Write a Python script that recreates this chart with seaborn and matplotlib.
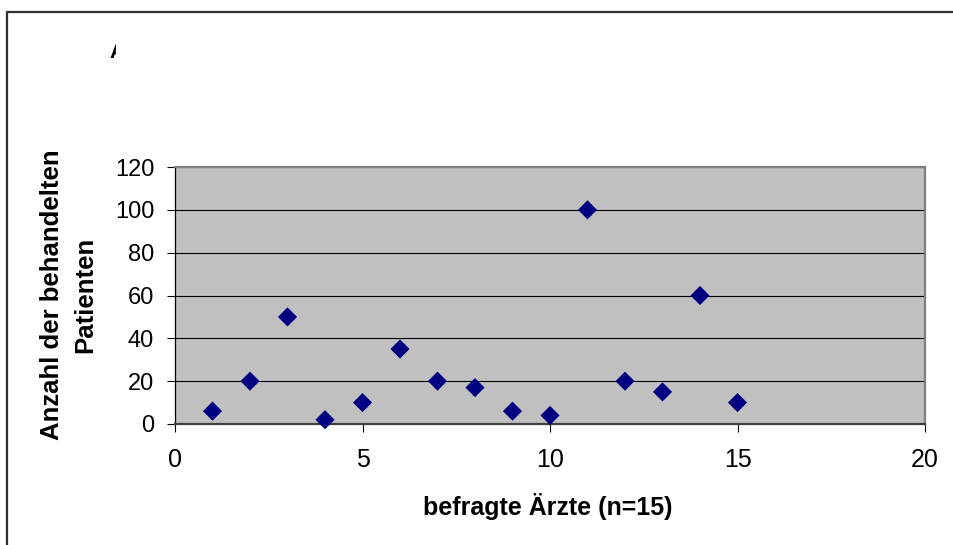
import matplotlib
matplotlib.use("Agg")
import matplotlib.pyplot as plt
import seaborn as sns
import pandas as pd
from matplotlib.lines import Line2D
from matplotlib.patches import Rectangle

# ---- data ----
aerzte = [1, 2, 3, 4, 5, 6, 7, 8, 9, 10, 11, 12, 13, 14, 15]
patienten = [6, 20, 50, 2, 10, 35, 20, 17, 6, 4, 100, 20, 15, 60, 10]
x_ticks = [0, 5, 10, 15, 20]
y_ticks = [0, 20, 40, 60, 80, 100, 120]
x_label = "befragte Ärzte (n=15)"
y_label = "Anzahl der behandelten\nPatienten"
title_fragment = "A"

sns.set_style("white")
plt.rcParams['font.family'] = ['Liberation Sans', 'DejaVu Sans']
plt.rcParams['text.color'] = 'black'
plt.rcParams['xtick.color'] = 'black'
plt.rcParams['ytick.color'] = 'black'

W, H = 954, 545
fig = plt.figure(figsize=(W / 100, H / 100), dpi=100)
fig.patch.set_facecolor('white')

ax = fig.add_axes([175 / W, 1 - 424 / H, 750 / W, 257 / H])
df = pd.DataFrame({"x": aerzte, "y": patienten})
sns.scatterplot(data=df, x="x", y="y", marker="D", s=95, color="#000080",
                edgecolor="none", linewidth=0, ax=ax, zorder=5, clip_on=False)

ax.set_facecolor("#C0C0C0")
ax.set_xlim(0, 20)
ax.set_ylim(0, 120)
ax.set_xticks(x_ticks)
ax.set_yticks(y_ticks)
ax.yaxis.grid(True, color="black", lw=0.8)
ax.xaxis.grid(False)
ax.set_axisbelow(True)
ax.set_xlabel("")
ax.set_ylabel("")

for side in ("top", "right"):
    ax.spines[side].set_color("#808080")
    ax.spines[side].set_linewidth(1.6)
ax.spines["bottom"].set_color("#404040")
ax.spines["bottom"].set_linewidth(1.6)
ax.spines["left"].set_color("black")
ax.spines["left"].set_linewidth(0.9)

ax.tick_params(axis="both", direction="out", length=6, width=0.8, color="black",
               labelcolor="black", left=True, bottom=True)
ax.tick_params(axis="y", labelsize=17, pad=9)
ax.tick_params(axis="x", labelsize=18, pad=11)

# axis labels
fig.text(548 / W, 1 - 515 / H, x_label, ha="center", va="baseline",
         fontsize=18, fontweight="bold")
fig.text(69 / W, 1 - 295 / H, y_label, ha="center", va="center",
         rotation=90, fontsize=18.5, fontweight="bold", linespacing=1.5,
         multialignment="center")

# clipped title fragment
t = fig.text(117 / W, 1 - 58 / H, title_fragment, ha="center", va="baseline",
             fontsize=15, fontweight="bold")
clip = Rectangle((0, 0), 116.5 / W, 1, transform=fig.transFigure,
                 facecolor="none", edgecolor="none")
fig.add_artist(clip)
t.set_clip_path(clip)

# outer chart frame (left and top edges visible)
fig.add_artist(Line2D([7.5 / W, 7.5 / W], [0, 1 - 12 / H], transform=fig.transFigure,
                      color="#303030", lw=1.6))
fig.add_artist(Line2D([7.5 / W, 1], [1 - 12 / H, 1 - 12 / H], transform=fig.transFigure,
                      color="#303030", lw=1.6))

fig.savefig("out.png", dpi=100)
